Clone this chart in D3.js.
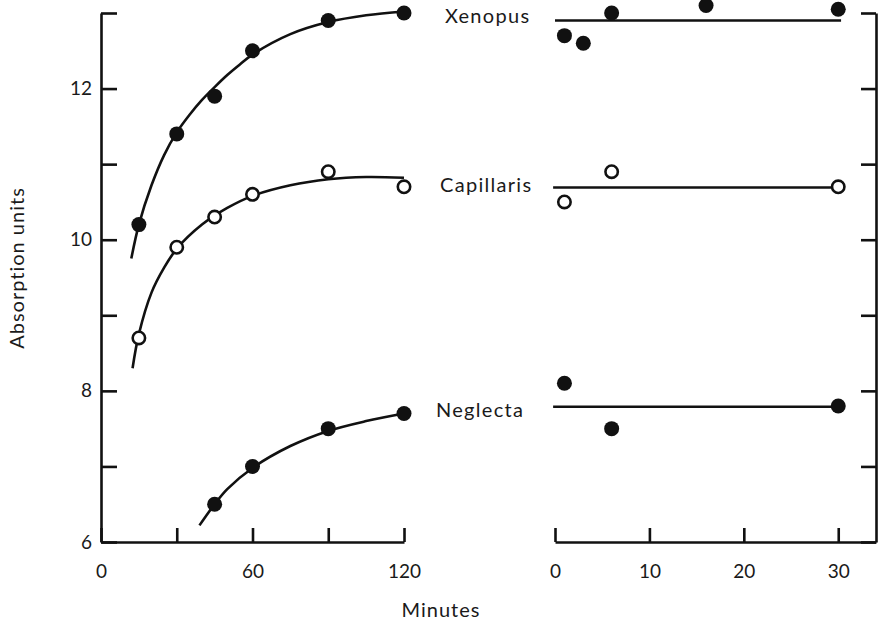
<!DOCTYPE html>
<html><head><meta charset="utf-8">
<script src="https://cdn.jsdelivr.net/npm/d3@7"></script>
<style>
body{margin:0;background:#fff;}
svg{display:block;}
text{font-family:Lato,"Open Sans",sans-serif;fill:#1a1a1a;}
</style></head><body>
<svg id="c" width="880" height="623"></svg>
<script>
// ---- data ----
const yTicks = [6,7,8,9,10,11,12,13];
const yTickLabels = ["6","","8","","10","","12",""];
const leftXTicks = [0,30,60,90,120];
const leftXTickLabels = ["0","","60","","120"];
const rightXTicks = [0,10,20,30];
const rightXTickLabels = ["0","10","20","30"];
const seriesNames = ["Xenopus","Capillaris","Neglecta"];
const seriesFilled = [true,false,true];

// left panel (0–120 min) observed points
const xenopusLeftT = [15,30,45,60,90,120];
const xenopusLeftV = [10.2,11.4,11.9,12.5,12.9,13.0];
const capillarisLeftT = [15,30,45,60,90,120];
const capillarisLeftV = [8.7,9.9,10.3,10.6,10.9,10.7];
const neglectaLeftT = [45,60,90,120];
const neglectaLeftV = [6.5,7.0,7.5,7.7];

// left panel fitted curves
const xenopusCurveT = [12,15,20,25,30,35,40,45,50,55,60,75,90,105,120];
const xenopusCurveV = [9.75,10.2,10.72,11.12,11.42,11.65,11.85,12.02,12.18,12.32,12.45,12.72,12.88,12.97,13.02];
const capillarisCurveT = [12.5,15,20,25,30,40,50,60,75,90,105,120];
const capillarisCurveV = [8.3,8.75,9.3,9.63,9.88,10.2,10.42,10.58,10.72,10.8,10.83,10.82];
const neglectaCurveT = [39,45,50,60,75,90,105,120];
const neglectaCurveV = [6.22,6.5,6.7,6.98,7.27,7.47,7.6,7.7];

// right panel (0–30 min) observed points
const xenopusRightT = [1,3,6,16,30];
const xenopusRightV = [12.7,12.6,13.0,13.1,13.05];
const capillarisRightT = [1,6,30];
const capillarisRightV = [10.5,10.9,10.7];
const neglectaRightT = [1,6,30];
const neglectaRightV = [8.1,7.5,7.8];

// right panel mean levels
const levelStartT = [0,-0.2,-0.2];
const levelEndT = [30.3,30,30];
const levelV = [12.9,10.69,7.79];

// ---- chart ----
const svg = d3.select("#c");
const y = d3.scaleLinear().domain([6,13]).range([542,13]);
const xL = d3.scaleLinear().domain([0,120]).range([101,404]);
const xR = d3.scaleLinear().domain([0,34]).range([555,876]);
const ink = "#111";

function styleAxis(g){
  g.selectAll("path.domain").attr("stroke",ink).attr("stroke-width",2.6);
  g.selectAll(".tick line").attr("stroke",ink).attr("stroke-width",2.6);
  g.selectAll("text").attr("font-size",19).attr("font-family","Lato, 'Open Sans', sans-serif").attr("fill","#1a1a1a");
}

// left y axis
svg.append("g").attr("transform",`translate(${xL(0)},0)`)
  .call(d3.axisLeft(y).tickValues(yTicks).tickSize(-16).tickSizeOuter(0).tickPadding(9)
    .tickFormat((d,i)=>yTickLabels[i]))
  .call(styleAxis);

// right y axis (no labels)
svg.append("g").attr("transform",`translate(${xR(34)},0)`)
  .call(d3.axisRight(y).tickValues(yTicks).tickSize(-15).tickSizeOuter(0).tickFormat(""))
  .call(styleAxis);

// left x axis
svg.append("g").attr("transform",`translate(0,${y(6)})`)
  .call(d3.axisBottom(xL).tickValues(leftXTicks).tickSize(-14).tickSizeOuter(0).tickPadding(23)
    .tickFormat((d,i)=>leftXTickLabels[i]))
  .call(styleAxis);

// right x axis
svg.append("g").attr("transform",`translate(0,${y(6)})`)
  .call(d3.axisBottom(xR).tickValues(rightXTicks).tickSize(-14).tickSizeOuter(0).tickPadding(23)
    .tickFormat((d,i)=>rightXTickLabels[i]))
  .call(styleAxis);

// axis titles
svg.append("text").attr("x",441).attr("y",617).attr("text-anchor","middle")
  .attr("font-size",20).attr("letter-spacing",1).text("Minutes");
svg.append("text").attr("transform","translate(24,268) rotate(-90)").attr("text-anchor","middle")
  .attr("font-size",20).attr("letter-spacing",1).text("Absorption units");

// curves
const line = d3.line().x(d=>xL(d[0])).y(d=>y(d[1])).curve(d3.curveCatmullRom.alpha(0.5));
const curves = [
  d3.zip(xenopusCurveT,xenopusCurveV),
  d3.zip(capillarisCurveT,capillarisCurveV),
  d3.zip(neglectaCurveT,neglectaCurveV)
];
curves.forEach(c=>svg.append("path").datum(c).attr("d",line)
  .attr("fill","none").attr("stroke",ink).attr("stroke-width",2.6));

// right level lines
levelV.forEach((v,i)=>{
  svg.append("line").attr("x1",xR(levelStartT[i])).attr("x2",xR(levelEndT[i]))
    .attr("y1",y(v)).attr("y2",y(v)).attr("stroke",ink).attr("stroke-width",2.6);
});

// points
const leftPts = [
  d3.zip(xenopusLeftT,xenopusLeftV),
  d3.zip(capillarisLeftT,capillarisLeftV),
  d3.zip(neglectaLeftT,neglectaLeftV)
];
const rightPts = [
  d3.zip(xenopusRightT,xenopusRightV),
  d3.zip(capillarisRightT,capillarisRightV),
  d3.zip(neglectaRightT,neglectaRightV)
];
function drawPts(pts,xs,filled){
  svg.append("g").selectAll("circle").data(pts).join("circle")
    .attr("cx",d=>xs(d[0])).attr("cy",d=>y(d[1]))
    .attr("r",filled?7.5:6.2)
    .attr("fill",filled?ink:"#fff")
    .attr("stroke",ink).attr("stroke-width",filled?0:2.6);
}
leftPts.forEach((p,i)=>drawPts(p,xL,seriesFilled[i]));
rightPts.forEach((p,i)=>drawPts(p,xR,seriesFilled[i]));

// series labels
const labelX = [445,440,436];
const labelY = [23,192,417];
seriesNames.forEach((n,i)=>{
  svg.append("text").attr("x",labelX[i]).attr("y",labelY[i])
    .attr("font-size",20).attr("letter-spacing",1.3).text(n);
});
</script>
</body></html>
